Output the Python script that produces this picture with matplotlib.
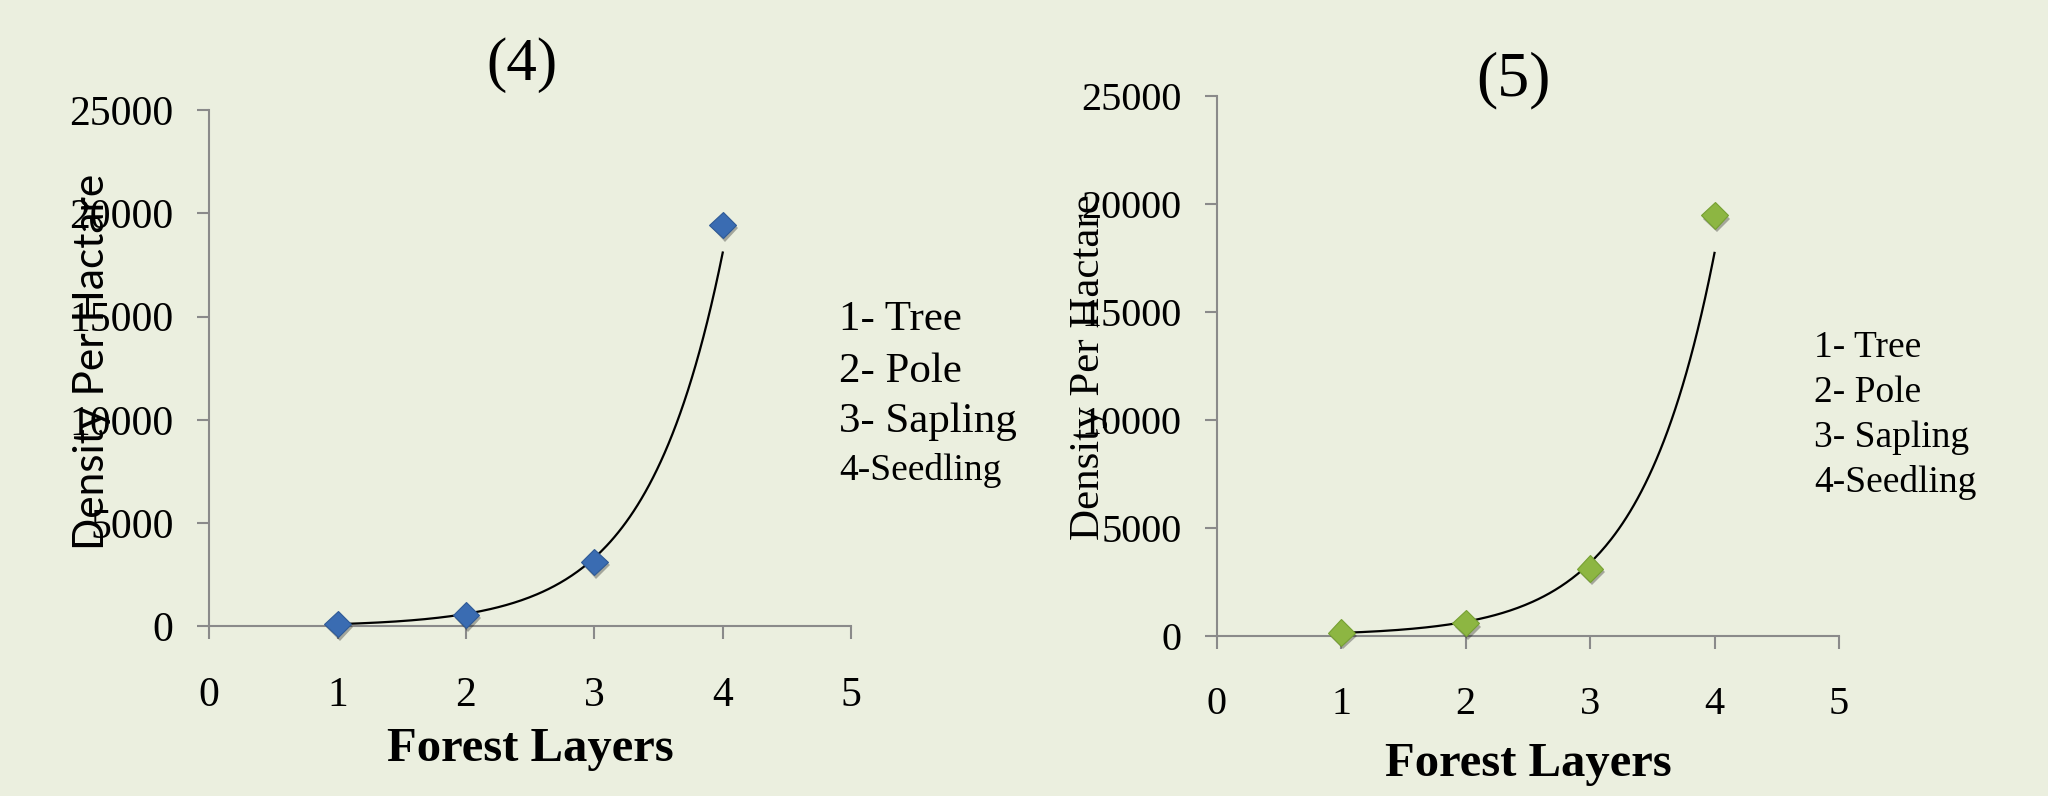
import numpy as np
import matplotlib.pyplot as plt
import matplotlib.patheffects as pe

# forest layer index and stem density per hectare
layers = [1, 2, 3, 4]
density_4 = [121, 557, 3120, 19430]
density_5 = [135, 570, 3100, 19450]
layer_names = ['1- Tree', '2- Pole', '3- Sapling', '4-Seedling']
xticks = [0, 1, 2, 3, 4, 5]
yticks = [0, 5000, 10000, 15000, 20000, 25000]

BG = '#ebefdf'
AXIS = '#8a8a8a'
SERIF = 'Liberation Serif'


def expo_trend(x, y):
    '''
    Exponential trendline y = a*exp(b*x), fitted on log(y) like a spreadsheet.
    '''
    b, lna = np.polyfit(np.array(x, float), np.log(y), 1)
    xs = np.linspace(min(x), max(x), 200)
    return xs, np.exp(lna)*np.exp(b*xs)


def panel(ax, y, color, edge, title, ylab_font, ylab_size, ylab_x, ylab_y,
          title_xy, title_size, tick_size, leg_x, leg_y, leg_sizes):
    '''
    One scatter panel with its exponential trendline and the layer key.
    '''
    ax.set_facecolor(BG)
    xs, ys = expo_trend(layers, y)
    ax.plot(xs, ys, color='black', lw=1.6, zorder=3)
    ax.plot(layers, y, ls='none', marker='D', ms=13.5, color=color,
            mec=edge, mew=0.8, zorder=4, clip_on=False,
            path_effects=[pe.SimplePatchShadow(offset=(1.5, -2.5),
                                               shadow_rgbFace='k', alpha=0.3),
                          pe.Normal()])

    ax.set_xlim(0, 5)
    ax.set_ylim(0, 25000)
    ax.set_xticks(xticks)
    ax.set_yticks(yticks)
    for s in ['top', 'right']:
        ax.spines[s].set_visible(False)
    for s in ['left', 'bottom']:
        ax.spines[s].set_color(AXIS)
        ax.spines[s].set_linewidth(1.5)
    ax.tick_params(axis='both', direction='out', length=9, width=1.5,
                   color=AXIS, labelsize=tick_size)
    ax.tick_params(axis='x', pad=27)
    ax.tick_params(axis='y', pad=16.5)
    for lab in ax.get_xticklabels() + ax.get_yticklabels():
        lab.set_fontfamily(SERIF)

    ax.set_xlabel('Forest Layers', fontsize=35, fontweight='bold',
                  family=SERIF, va='center')
    ax.xaxis.set_label_coords(0.5, -0.237)
    ax.set_ylabel('Density Per Hactare', fontsize=ylab_size, family=ylab_font,
                  va='center')
    ax.yaxis.set_label_coords(ylab_x, ylab_y)

    ax.text(title_xy[0], title_xy[1], title, transform=ax.transAxes,
            ha='center', va='center', fontsize=title_size, family=SERIF)
    for name, ly, fs in zip(layer_names, leg_y, leg_sizes):
        ax.text(leg_x, ly, name, transform=ax.transAxes, ha='left',
                va='center', fontsize=fs, family=SERIF, clip_on=False)
    return None


if __name__ == "__main__":

    fig = plt.figure(figsize=(20.48, 7.96), dpi=100)
    fig.patch.set_facecolor(BG)

    ax1 = fig.add_axes([0.1021, 0.2130, 0.3135, 0.6489])
    ax2 = fig.add_axes([0.5942, 0.2016, 0.3037, 0.6784])

    panel(ax1, density_4, '#3a6cb2', '#2f5a96', '(4)', 'Lato', 30.5,
          -0.182, 0.512, (0.4875, 1.087), 44, 30,
          0.981, [0.593, 0.494, 0.397, 0.302], [31, 31, 31, 27])
    panel(ax2, density_5, '#8db642', '#76a032', '(5)', SERIF, 31,
          -0.206, 0.497, (0.4775, 1.027), 46, 29,
          0.96, [0.532, 0.449, 0.367, 0.284], [27, 27, 27, 27])

    plt.savefig('out.png', dpi=100, facecolor=BG)
    plt.close()
